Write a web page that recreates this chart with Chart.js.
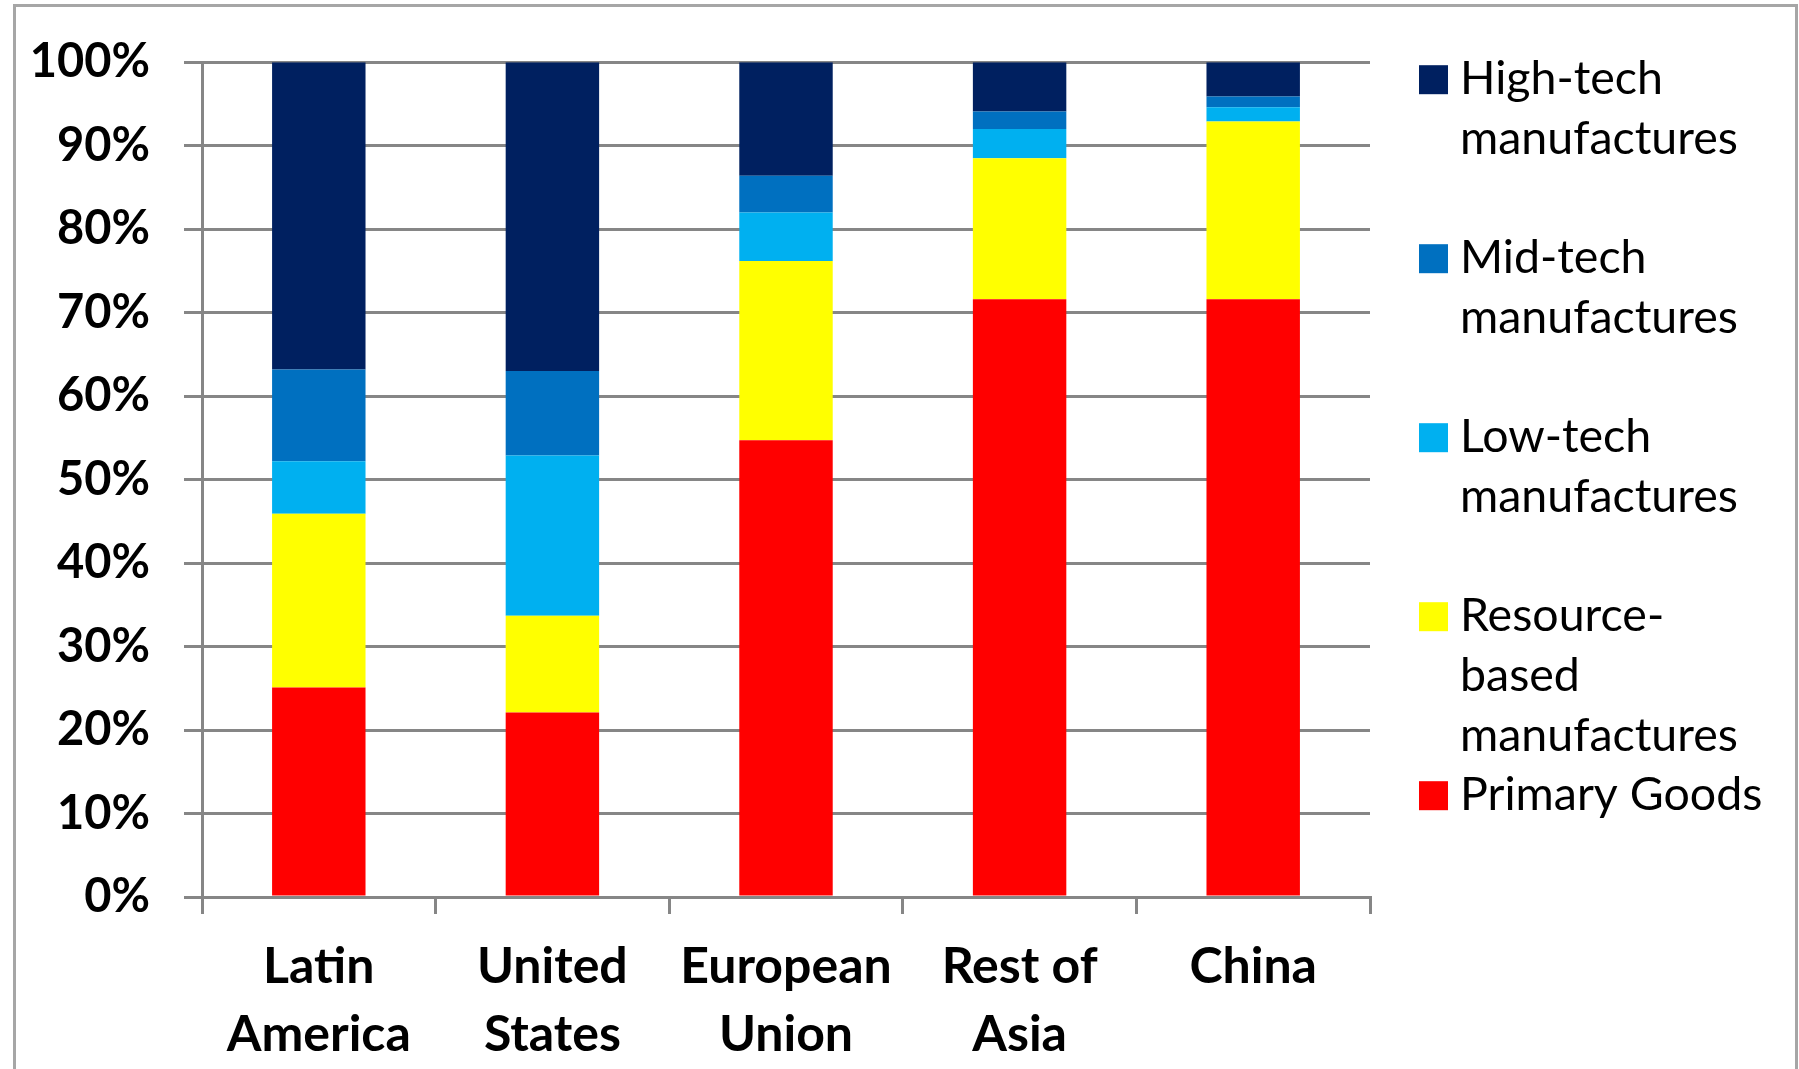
<!DOCTYPE html>
<html>
<head>
<meta charset="utf-8">
<script src="https://cdn.jsdelivr.net/npm/chart.js@4"></script>
<style>
  html, body { margin: 0; padding: 0; background: #fff; }
  #wrap { position: relative; width: 1799px; height: 1069px; }
  canvas { display: block; }
</style>
</head>
<body>
<div id="wrap"><canvas id="c"></canvas></div>
<script>
// ---- Data ----
const categories = [['Latin', 'America'], ['United', 'States'], ['European', 'Union'], ['Rest of', 'Asia'], ['China']];
const primaryGoods = [25.1, 22.1, 54.7, 71.6, 71.6];
const resourceBased = [20.8, 11.6, 21.5, 16.9, 21.3];
const lowTech = [6.3, 19.2, 5.8, 3.5, 1.7];
const midTech = [11.0, 10.1, 4.4, 2.1, 1.3];
const highTech = [36.8, 37.0, 13.6, 5.9, 4.1];
const seriesLabels = [['Primary Goods'], ['Resource-', 'based', 'manufactures'], ['Low-tech', 'manufactures'], ['Mid-tech', 'manufactures'], ['High-tech', 'manufactures']];
const seriesColors = ['#FF0000', '#FFFF00', '#00B0F0', '#0070C0', '#002060'];
const yTicks = [0, 10, 20, 30, 40, 50, 60, 70, 80, 90, 100];

const seriesValues = [primaryGoods, resourceBased, lowTech, midTech, highTech];
const GRID = '#868686';

const datasets = seriesValues.map((vals, i) => ({
  label: seriesLabels[i].join(' '),
  lines: seriesLabels[i],
  data: vals,
  backgroundColor: seriesColors[i],
  borderWidth: 0,
  barPercentage: 0.4,
  categoryPercentage: 1.0
}));

const borderPlugin = {
  id: 'outerBorder',
  beforeDraw(chart) {
    const ctx = chart.ctx;
    ctx.save();
    ctx.fillStyle = '#fff';
    ctx.fillRect(0, 0, chart.width, chart.height);
    ctx.strokeStyle = '#A6A6A6';
    ctx.lineWidth = 3;
    ctx.strokeRect(14.5, 5.5, 1782, 1200);
    ctx.restore();
  }
};

const legendPlugin = {
  id: 'customLegend',
  afterDraw(chart) {
    const ctx = chart.ctx;
    const area = chart.chartArea;
    const ds = chart.data.datasets;
    const sqX = area.right + 49;
    const txtX = area.right + 90;
    const lineH = 60;
    const itemStep = 179;
    ctx.save();
    ctx.font = '46.5px Lato';
    ctx.fillStyle = '#000';
    ctx.textBaseline = 'middle';
    ctx.textAlign = 'left';
    for (let k = 0; k < ds.length; k++) {
      const d = ds[ds.length - 1 - k];
      const y0 = area.top + 17 + k * itemStep;
      ctx.fillStyle = d.backgroundColor;
      ctx.fillRect(sqX, y0 - 14, 29, 29);
      ctx.fillStyle = '#000';
      d.lines.forEach((t, j) => ctx.fillText(t, txtX, y0 + j * lineH));
    }
    ctx.restore();
  }
};

new Chart(document.getElementById('c'), {
  type: 'bar',
  data: { labels: categories, datasets },
  options: {
    responsive: true,
    maintainAspectRatio: false,
    animation: false,
    devicePixelRatio: 1,
    layout: { padding: { top: 62, right: 429, bottom: 0, left: 0 } },
    plugins: { legend: { display: false }, tooltip: { enabled: false } },
    scales: {
      x: {
        stacked: true,
        grid: { drawOnChartArea: false, drawTicks: true, tickLength: 17, color: GRID, lineWidth: 3, offset: true },
        border: { display: true, color: GRID, width: 3 },
        ticks: {
          color: '#000',
          padding: 19,
          maxRotation: 0,
          autoSkip: false,
          font: { family: 'Lato', weight: 'bold', size: 50, lineHeight: 1.355 }
        },
        afterFit(scale) { scale.height = 172; }
      },
      y: {
        stacked: true,
        min: 0,
        max: 100,
        afterBuildTicks(scale) { scale.ticks = yTicks.map(v => ({ value: v })); },
        grid: { color: GRID, lineWidth: 3, tickLength: 18, drawTicks: true },
        border: { display: true, color: GRID, width: 3 },
        ticks: {
          color: '#000',
          padding: 34,
          font: { family: 'Lato', weight: 'bold', size: 47 },
          callback: v => v + '%'
        },
        afterFit(scale) { scale.width = 202; }
      }
    }
  },
  plugins: [borderPlugin, legendPlugin]
});
</script>
</body>
</html>
